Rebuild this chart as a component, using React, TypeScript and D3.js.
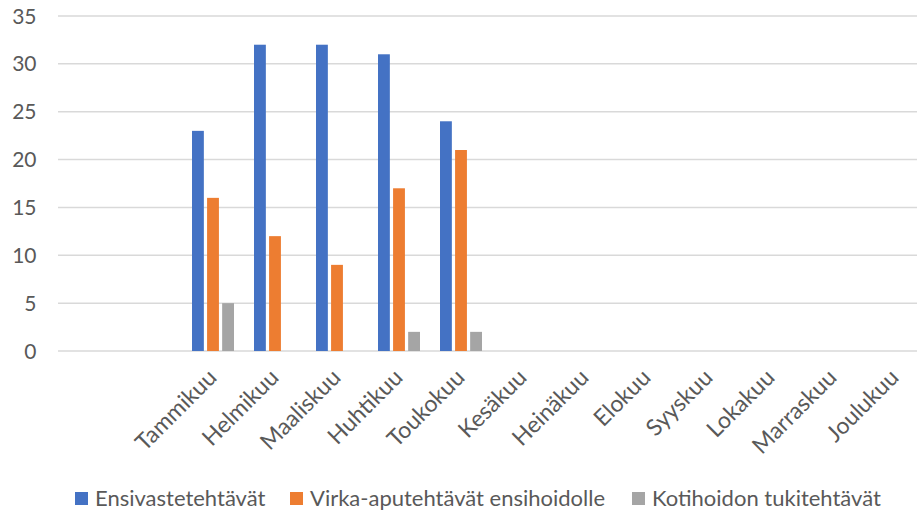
import React from "react";
import * as d3 from "d3";

const categories = ["", "", "Tammikuu", "Helmikuu", "Maaliskuu", "Huhtikuu", "Toukokuu", "Kesäkuu", "Heinäkuu", "Elokuu", "Syyskuu", "Lokakuu", "Marraskuu", "Joulukuu"];
const seriesNames = ["Ensivastetehtävät", "Virka-aputehtävät ensihoidolle", "Kotihoidon tukitehtävät"];
const ensivaste = [null, null, 23, 32, 32, 31, 24, null, null, null, null, null, null, null];
const virkaapu = [null, null, 16, 12, 9, 17, 21, null, null, null, null, null, null, null];
const kotihoito = [null, null, 5, null, null, 2, 2, null, null, null, null, null, null, null];
const yTicks = [0, 5, 10, 15, 20, 25, 30, 35];
const colors = ["#4472C4", "#ED7D31", "#A5A5A5"];

const W = 917;
const H = 513;
const FONT = "Lato, 'Open Sans', sans-serif";
const TEXT = "#595959";

export default function App() {
  const left = 58;
  const step = 62;
  const x0 = d3.scaleBand<number>().domain(d3.range(categories.length)).range([left, left + step * categories.length]).padding(0);
  const y = d3.scaleLinear().domain([0, 35]).range([351, 16]);
  const x1 = d3.scaleBand<number>().domain([0, 1, 2]).range([-21, 21]).paddingInner(3 / 14);
  const allSeries = [ensivaste, virkaapu, kotihoito];

  const legendX = [75, 290, 632];

  return (
    <svg width={W} height={H} style={{ position: "absolute", left: 0, top: 0, background: "#fff" }} fontFamily={FONT}>
      {yTicks.map((t) => (
        <g key={t}>
          <line x1={left} x2={W} y1={y(t)} y2={y(t)} stroke="#D9D9D9" strokeWidth={1.5} />
          <text x={36.5} y={y(t)} dy="0.36em" textAnchor="end" fontSize={21} fill={TEXT}>{t}</text>
        </g>
      ))}
      {allSeries.map((s, si) =>
        s.map((v, i) =>
          v == null ? null : (
            <rect
              key={`${si}-${i}`}
              x={x0(i)! + x0.bandwidth() / 2 + x1(si)!}
              width={x1.bandwidth()}
              y={y(v)}
              height={y(0) - y(v)}
              fill={colors[si]}
            />
          )
        )
      )}
      {categories.map((c, i) => (
        <text
          key={i}
          transform={`translate(${x0(i)! + x0.bandwidth() / 2 + 5},${379}) rotate(-45)`}
          textAnchor="end"
          fontSize={23}
          fill={TEXT}
        >
          {c}
        </text>
      ))}
      {seriesNames.map((n, i) => (
        <g key={n} transform={`translate(${legendX[i]},0)`}>
          <rect x={0} y={492} width={13} height={13} fill={colors[i]} />
          <text x={20} y={506} fontSize={22} fill={TEXT}>{n}</text>
        </g>
      ))}
    </svg>
  );
}
